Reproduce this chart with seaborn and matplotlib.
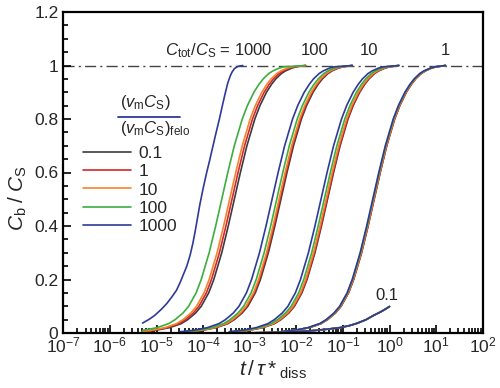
import numpy as np
import matplotlib
matplotlib.use("Agg")
import matplotlib.pyplot as plt
from matplotlib.lines import Line2D
from matplotlib.ticker import LogLocator, MultipleLocator, FuncFormatter
import seaborn as sns

sns.set_style("ticks")
plt.rcParams['font.family'] = ['Liberation Sans', 'DejaVu Sans']
plt.rcParams['mathtext.fontset'] = 'custom'
plt.rcParams['mathtext.rm'] = 'Liberation Sans'
plt.rcParams['mathtext.it'] = 'Liberation Sans:style=italic'
plt.rcParams['mathtext.bf'] = 'Liberation Sans:weight=bold'

c_levels = [0.005, 0.01, 0.02, 0.035, 0.05, 0.075, 0.1, 0.15, 0.2, 0.3, 0.4, 0.5,
            0.6, 0.7, 0.8, 0.85, 0.9, 0.93, 0.95, 0.97, 0.98, 0.99, 0.995, 1.0]

# log10(t/tau*) at those levels, one list per (Ctot/CS, vmCS ratio) curve
# Ctot/CS = 1
g1_black = [-2.30, -2.02, -1.72, -1.47, -1.33, -1.16, -1.04, -0.88, -0.77, -0.60, -0.46, -0.33,
            -0.20, -0.06, 0.11, 0.22, 0.36, 0.47, 0.56, 0.68, 0.77, 0.90, 1.00, 1.20]
g1_red = [-2.30, -2.02, -1.72, -1.47, -1.33, -1.16, -1.04, -0.88, -0.77, -0.60, -0.46, -0.33,
          -0.20, -0.06, 0.11, 0.22, 0.36, 0.47, 0.56, 0.68, 0.77, 0.90, 1.00, 1.20]
g1_orange = [-2.31, -2.03, -1.73, -1.48, -1.34, -1.17, -1.05, -0.89, -0.78, -0.61, -0.47, -0.34,
             -0.21, -0.07, 0.10, 0.21, 0.35, 0.46, 0.55, 0.67, 0.76, 0.89, 0.99, 1.20]
g1_green = [-2.32, -2.04, -1.74, -1.49, -1.35, -1.18, -1.06, -0.90, -0.79, -0.62, -0.48, -0.35,
            -0.22, -0.08, 0.09, 0.20, 0.34, 0.45, 0.54, 0.66, 0.75, 0.88, 0.98, 1.20]
g1_blue = [-2.33, -2.05, -1.75, -1.50, -1.36, -1.19, -1.07, -0.91, -0.80, -0.63, -0.49, -0.36,
           -0.23, -0.09, 0.08, 0.19, 0.33, 0.44, 0.53, 0.65, 0.74, 0.87, 0.97, 1.20]

# Ctot/CS = 10
g10_black = [-3.30, -3.02, -2.72, -2.47, -2.33, -2.16, -2.04, -1.88, -1.77, -1.60, -1.46, -1.33,
             -1.20, -1.06, -0.89, -0.78, -0.64, -0.53, -0.44, -0.32, -0.23, -0.10, 0.00, 0.20]
g10_red = [-3.31, -3.03, -2.73, -2.48, -2.34, -2.17, -2.05, -1.89, -1.78, -1.61, -1.47, -1.34,
           -1.21, -1.07, -0.90, -0.79, -0.65, -0.54, -0.45, -0.33, -0.24, -0.11, -0.01, 0.20]
g10_orange = [-3.33, -3.05, -2.75, -2.50, -2.36, -2.19, -2.07, -1.91, -1.80, -1.63, -1.49, -1.36,
              -1.23, -1.09, -0.92, -0.81, -0.67, -0.56, -0.47, -0.35, -0.26, -0.13, -0.03, 0.20]
g10_green = [-3.37, -3.09, -2.79, -2.54, -2.40, -2.23, -2.11, -1.95, -1.84, -1.67, -1.53, -1.40,
             -1.27, -1.13, -0.96, -0.85, -0.71, -0.60, -0.51, -0.39, -0.30, -0.17, -0.07, 0.20]
g10_blue = [-3.44, -3.16, -2.86, -2.61, -2.47, -2.30, -2.18, -2.02, -1.91, -1.74, -1.60, -1.47,
            -1.34, -1.20, -1.03, -0.92, -0.78, -0.67, -0.58, -0.46, -0.37, -0.24, -0.14, 0.20]

# Ctot/CS = 100
g100_black = [-4.30, -4.02, -3.72, -3.47, -3.33, -3.16, -3.04, -2.88, -2.77, -2.60, -2.46, -2.33,
              -2.20, -2.06, -1.89, -1.78, -1.64, -1.53, -1.44, -1.32, -1.23, -1.10, -1.00, -0.80]
g100_red = [-4.32, -4.04, -3.74, -3.49, -3.35, -3.18, -3.06, -2.90, -2.79, -2.62, -2.48, -2.35,
            -2.22, -2.08, -1.91, -1.80, -1.66, -1.55, -1.46, -1.34, -1.25, -1.12, -1.02, -0.80]
g100_orange = [-4.34, -4.06, -3.76, -3.51, -3.37, -3.20, -3.08, -2.92, -2.81, -2.64, -2.50, -2.37,
               -2.24, -2.10, -1.93, -1.82, -1.68, -1.57, -1.48, -1.36, -1.27, -1.14, -1.04, -0.80]
g100_green = [-4.39, -4.11, -3.81, -3.56, -3.42, -3.25, -3.13, -2.97, -2.86, -2.69, -2.55, -2.42,
              -2.29, -2.15, -1.98, -1.87, -1.73, -1.62, -1.53, -1.41, -1.32, -1.19, -1.09, -0.80]
g100_blue = [-4.49, -4.21, -3.91, -3.66, -3.52, -3.35, -3.23, -3.07, -2.96, -2.79, -2.65, -2.52,
             -2.39, -2.25, -2.08, -1.97, -1.83, -1.72, -1.63, -1.51, -1.42, -1.29, -1.19, -0.80]

# Ctot/CS = 1000 (these start at t = 5e-6)
g1000_black = [-5.30, -5.02, -4.72, -4.47, -4.33, -4.16, -4.04, -3.88, -3.77, -3.60, -3.46, -3.33,
               -3.20, -3.06, -2.89, -2.78, -2.64, -2.53, -2.44, -2.32, -2.23, -2.10, -2.00, -1.80]
g1000_red = [-5.30, -5.07, -4.77, -4.52, -4.38, -4.21, -4.09, -3.93, -3.82, -3.65, -3.51, -3.38,
             -3.25, -3.11, -2.94, -2.83, -2.69, -2.58, -2.49, -2.37, -2.28, -2.15, -2.05, -1.80]
g1000_orange = [-5.30, -5.12, -4.82, -4.57, -4.43, -4.26, -4.14, -3.98, -3.87, -3.70, -3.56, -3.43,
                -3.30, -3.16, -2.99, -2.88, -2.74, -2.63, -2.54, -2.42, -2.33, -2.20, -2.10, -1.80]
g1000_green = [-5.31, -5.29, -4.99, -4.74, -4.60, -4.43, -4.31, -4.15, -4.04, -3.87, -3.73, -3.60,
               -3.47, -3.33, -3.16, -3.05, -2.91, -2.80, -2.71, -2.59, -2.50, -2.37, -2.27, -1.80]

# the vmCS ratio 1000 curve at Ctot/CS = 1000 has its own shape
g1000_blue_logt = [-5.30, -5.15, -5.03, -4.90, -4.78, -4.67, -4.57, -4.49, -4.42, -4.35, -4.28,
                   -4.22, -4.17, -4.12, -4.07, -4.00, -3.93, -3.86, -3.80, -3.72, -3.65, -3.58,
                   -3.52, -3.47, -3.42, -3.38, -3.33, -3.25, -3.15]
g1000_blue_c = [0.037, 0.052, 0.067, 0.088, 0.11, 0.135, 0.16, 0.19, 0.22, 0.25, 0.29,
                0.335, 0.38, 0.43, 0.48, 0.54, 0.595, 0.645, 0.69, 0.75, 0.80, 0.855,
                0.90, 0.935, 0.96, 0.975, 0.988, 0.997, 1.0]

# Ctot/CS = 0.1 (all ratios coincide)
g01_logt = [-3.30, -3.00, -2.50, -2.00, -1.70, -1.40, -1.06, -0.85, -0.70, -0.50, -0.35, -0.20, -0.10, 0.00]
g01_c = [0.0, 0.0005, 0.002, 0.005, 0.008, 0.013, 0.020, 0.028, 0.036, 0.050, 0.065, 0.078, 0.088, 0.099]

ratio_labels = ['0.1', '1', '10', '100', '1000']
ratio_colors = ['#3c3c3c', '#d7262b', '#f7842a', '#3cae3f', '#2e3a98']

fig = plt.figure(figsize=(5.0, 3.88), dpi=100)
ax = fig.add_axes([63.3 / 500, 55 / 388, 419.4 / 500, 321 / 388])

lw = 1.2
groups = [
    [g1000_black, g1000_red, g1000_orange, g1000_green, None],
    [g100_black, g100_red, g100_orange, g100_green, g100_blue],
    [g10_black, g10_red, g10_orange, g10_green, g10_blue],
    [g1_black, g1_red, g1_orange, g1_green, g1_blue],
]
for grp in groups:
    for logt, col in zip(grp, ratio_colors):
        if logt is None:
            sns.lineplot(x=10 ** np.array(g1000_blue_logt), y=g1000_blue_c, color=col, lw=lw,
                         ax=ax, estimator=None, sort=False, legend=False)
        else:
            sns.lineplot(x=10 ** np.array(logt), y=c_levels, color=col, lw=lw,
                         ax=ax, estimator=None, sort=False, legend=False)

for col in ratio_colors:
    sns.lineplot(x=10 ** np.array(g01_logt), y=g01_c, color=col, lw=lw,
                 ax=ax, estimator=None, sort=False, legend=False)

ax.axhline(1.0, color='#444444', lw=1.0, ls=(0, (8, 3, 1.5, 3)), zorder=0)

ax.set_xscale('log')
ax.set_xlim(1e-7, 1e2)
ax.set_ylim(0, 1.2)

ax.xaxis.set_major_locator(LogLocator(base=10, numticks=20))
ax.xaxis.set_minor_locator(LogLocator(base=10, subs=np.arange(2, 10), numticks=20))
ax.yaxis.set_major_locator(MultipleLocator(0.2))
ax.yaxis.set_minor_locator(MultipleLocator(0.05))
ax.yaxis.set_major_formatter(FuncFormatter(lambda v, p: f'{v:g}'))

ax.tick_params(which='both', direction='in', top=False, right=False, labelsize=12.5,
               color='black', width=1.2)
ax.tick_params(which='major', length=6)
ax.tick_params(which='minor', length=3.5)
ax.tick_params(axis='x', which='major', pad=2)
for s in ax.spines.values():
    s.set_linewidth(1.6)
    s.set_color('black')

ax.set_xlabel(r'$t\,/\,\tau*_{\rm diss}$', fontsize=15, labelpad=2)
ax.set_ylabel(r'$C_{\rm b}\;/\;C_{\rm S}$', fontsize=15)
ax.yaxis.set_label_coords(-0.082, 0.42)

# group labels
ax.text(10 ** -2.5, 1.04, r'$C_{\rm tot}/C_{\rm S}$ = 1000', ha='right', va='baseline', fontsize=12)
ax.text(10 ** -1.6, 1.04, '100', ha='center', va='baseline', fontsize=12)
ax.text(10 ** -0.44, 1.04, '10', ha='center', va='baseline', fontsize=12)
ax.text(10 ** 1.19, 1.04, '1', ha='center', va='baseline', fontsize=12)
ax.text(10 ** -0.05, 0.124, '0.1', ha='center', va='baseline', fontsize=12)

# legend with fraction title
handles = [Line2D([], [], color=c, lw=lw) for c in ratio_colors]
ax.legend(handles, ratio_labels, loc='upper left', bbox_to_anchor=(0.047, 0.583),
          frameon=False, fontsize=12.5, handlelength=2.75, handletextpad=0.45,
          labelspacing=0.18, borderpad=0, borderaxespad=0)
fig.text(120 / 500, 1 - 103 / 388, r'$(v_{\rm m}C_{\rm S})$', ha='left', va='center', fontsize=12)
fig.text(120 / 500, 1 - 129 / 388, r'$(v_{\rm m}C_{\rm S})_{\rm felo}$', ha='left', va='center', fontsize=12)
fig.add_artist(Line2D([118 / 500, 180 / 500], [1 - 116.7 / 388] * 2, color='#2e3a98', lw=1.3))

fig.savefig('out.png', dpi=100)
